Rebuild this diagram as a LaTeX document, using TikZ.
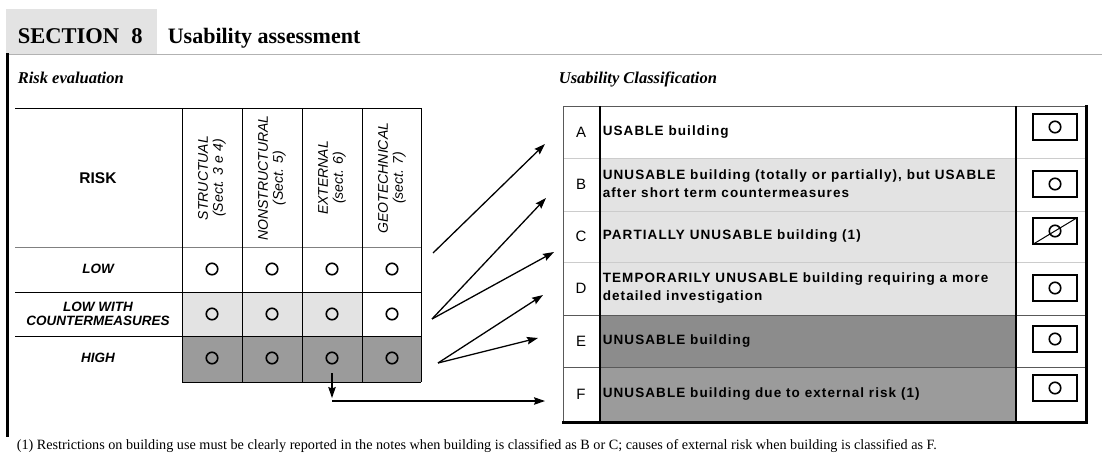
\documentclass[tikz,border=0pt]{standalone}
\usepackage{fontspec}
\setmainfont{Liberation Serif}
\setsansfont{Liberation Sans}
\newfontfamily\widesans[LetterSpace=8]{Liberation Sans}
\usetikzlibrary{arrows.meta}
\definecolor{lightgr}{HTML}{E3E3E3}
\definecolor{darkgr}{HTML}{8C8C8C}
\definecolor{midgr}{HTML}{9B9B9B}
\tikzset{
	rowlbl/.style={font=\sffamily\bfseries\itshape\fontsize{13.5}{14}\selectfont,align=center},
	colhead/.style={font=\sffamily\itshape\fontsize{14}{15}\selectfont,align=center,rotate=90},
	radio/.style={draw,circle,line width=1.6pt,minimum size=11.5pt,inner sep=0pt},
	letter/.style={font=\sffamily\fontsize{15}{15}\selectfont},
	classtxt/.style={anchor=west,align=left,font=\widesans\bfseries\fontsize{13.5}{18}\selectfont},
	chkbox/.style={draw,line width=1.2pt,minimum width=44pt,minimum height=26pt,inner sep=0pt},
	arr/.style={line width=1.3pt,-{Stealth[length=11pt,width=7.5pt,inset=1.5pt]}}
}
\begin{document}
\begin{tikzpicture}[x=1pt,y=-1pt,line width=1pt]
	\useasboundingbox (0,0) rectangle (1102,455);
	% title
	\fill[lightgr] (6,9) rectangle (157,54);
	\draw[gray!60] (6,54) -- (1102,54);
	\draw[line width=3pt] (7,53) -- (7,437);
	\node[anchor=base west,font=\bfseries\fontsize{22.5}{22}\selectfont] (sect) at (14,43) {SECTION\hspace{0.55em}8};
	\node[anchor=base west,font=\bfseries\fontsize{22}{22}\selectfont] (title) at (164,43) {Usability assessment};
	\node[anchor=base west,font=\bfseries\itshape\fontsize{16.5}{16}\selectfont] (riskeval) at (14,83) {Risk evaluation};
	\node[anchor=base west,font=\bfseries\itshape\fontsize{16.5}{16}\selectfont] (usecls) at (555,83) {Usability Classification};
	% risk table
	\fill[lightgr] (182,292) rectangle (362,336);
	\fill[midgr] (182,336) rectangle (421,382);
	\draw (15,108) -- (421,108);
	\draw[gray] (15,247) -- (421,247);
	\draw (15,292) -- (421,292);
	\draw (15,336) -- (421,336);
	\draw (182,382) -- (421,382);
	\foreach \x in {182,242,302,362,421}
		\draw (\x,108) -- (\x,382);
	\node[font=\sffamily\bfseries\fontsize{15.5}{16}\selectfont] (risk) at (98,178) {RISK};
	\node[colhead] (struct) at (212,178) {STRUCTUAL\\(Sect. 3 e 4)};
	\node[colhead] (nonstruct) at (272,178) {NONSTRUCTURAL\\(Sect. 5)};
	\node[colhead] (extern) at (332,178) {EXTERNAL\\(sect. 6)};
	\node[colhead] (geotech) at (392,178) {GEOTECHNICAL\\(sect. 7)};
	\node[rowlbl] (low) at (98,269) {LOW};
	\node[rowlbl] (lowcm) at (98,314) {LOW WITH\\COUNTERMEASURES};
	\node[rowlbl] (high) at (98,358) {HIGH};
	\foreach \x in {212,272,332,392}
		\foreach \y in {269,314,358}
			\node[radio] (r-\x-\y) at (\x,\y) {};
	% classification table
	\fill[lightgr] (600,158) rectangle (1016,315);
	\fill[darkgr] (600,315) rectangle (1016,367);
	\fill[midgr] (600,367) rectangle (1016,422);
	\foreach \y in {158,211,262}
		\draw[gray!40] (563,\y) -- (1086,\y);
	\foreach \y in {315,367}
		\draw[gray!70!black] (563,\y) -- (1086,\y);
	\draw[gray!70!black] (563,422) -- (563,106) -- (1086,106);
	\draw[line width=1.6pt] (600,106) -- (600,422);
	\draw[line width=1.6pt] (1016,106) -- (1016,422);
	\draw[line width=3pt] (1086,105) -- (1086,422) -- (562,422);
	\node[letter] (la) at (581,132) {A};
	\node[letter] (lb) at (581,184) {B};
	\node[letter] (lc) at (581,236) {C};
	\node[letter] (ld) at (581,288) {D};
	\node[letter] (le) at (581,341) {E};
	\node[letter] (lf) at (581,394) {F};
	\node[classtxt] (ta) at (599,132) {USABLE building};
	\node[classtxt] (tb) at (599,184) {UNUSABLE building (totally or partially), but USABLE\\after short term countermeasures};
	\node[classtxt] (tc) at (599,236) {PARTIALLY UNUSABLE building (1)};
	\node[classtxt] (td) at (599,288) {TEMPORARILY UNUSABLE building requiring a more\\detailed investigation};
	\node[classtxt] (te) at (599,341) {UNUSABLE building};
	\node[classtxt] (tf) at (599,394) {UNUSABLE building due to external risk (1)};
	\foreach \n/\y in {a/127,b/184,c/231,d/288,e/339,f/388} {
		\node[chkbox] (chk\n) at (1055,\y) {};
		\node[radio] (o\n) at (chk\n) {};
	}
	\draw (chkc.south west) -- (chkc.north east);
	% arrows
	\coordinate (s1) at (433,253);
	\coordinate (p1) at (432,319);
	\coordinate (p2) at (438,363);
	\coordinate (ext) at (332,373);
	\coordinate (bend) at (332,398);
	\coordinate (corner) at (332,401);
	\coordinate (ga) at (545,144);
	\coordinate (gb) at (546,198);
	\coordinate (gc) at (554,252);
	\coordinate (gd) at (543,295);
	\coordinate (ge) at (538,338);
	\coordinate (gf) at (545,401);
	\draw[arr] (s1) -- (ga);
	\draw[arr] (p1) -- (gb);
	\draw[arr] (p1) -- (gc);
	\draw[arr] (p2) -- (gd);
	\draw[arr] (p2) -- (ge);
	\draw[arr] (ext) -- (bend);
	\draw[arr] (corner) -- (gf);
	% footnote
	\node[anchor=base west,font=\fontsize{14.2}{14}\selectfont] (note) at (13,449) {(1) Restrictions on building use must be clearly reported in the notes when building is classified as B or C; causes of external risk when building is classified as F.};
\end{tikzpicture}
\end{document}
